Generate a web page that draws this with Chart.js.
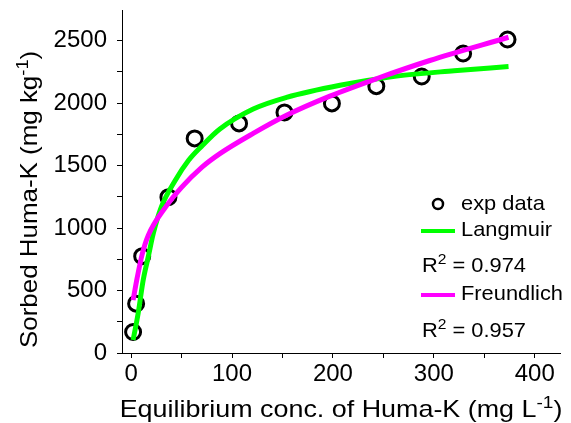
<!DOCTYPE html>
<html>
<head>
<meta charset="utf-8">
<script src="https://cdn.jsdelivr.net/npm/chart.js@4.4.1/dist/chart.umd.min.js"></script>
<style>
  html, body { margin: 0; padding: 0; background: #fff; }
</style>
</head>
<body>
<canvas id="chart" width="571" height="423"></canvas>
<script>
// experimental points
const expX = [2, 5, 11, 37, 63, 107, 152, 199, 243, 288, 329, 373];
const expY = [168, 395, 775, 1247, 1717, 1837, 1925, 1997, 2135, 2212, 2396, 2508];

// Langmuir fit curve
const langX = [2, 7, 12, 17, 22, 30, 44, 57, 70, 88, 121, 154, 207, 263, 320, 374];
const langY = [104, 317, 583, 769, 956, 1169, 1384, 1542, 1655, 1792, 1952, 2045, 2142, 2215, 2258, 2292];

// Freundlich fit curve
const freuX = [2, 6, 11, 17, 34, 50, 70, 88, 121, 154, 197, 243, 296, 374];
const freuY = [423, 600, 790, 940, 1165, 1325, 1485, 1595, 1757, 1902, 2055, 2194, 2340, 2526];

const r2Lang = "0.974";
const r2Freu = "0.957";

// major (labelled) and minor ticks
const xTicks = [0, 100, 200, 300, 400];
const xMinor = [50, 150, 250, 350];
const yTicks = [0, 500, 1000, 1500, 2000, 2500];
const yMinor = [250, 750, 1250, 1750, 2250];

const FONT = '"Liberation Sans", Arial, sans-serif';

function toPoints(xs, ys) {
  return xs.map((x, i) => ({ x: x, y: ys[i] }));
}

function tickList(major, minor) {
  return major.concat(minor).sort((a, b) => a - b).map(v => ({ value: v }));
}

// draws text made of normal and superscript parts
function drawParts(ctx, parts, x, y, size, stretch) {
  ctx.save();
  ctx.translate(x, y);
  ctx.scale(stretch, 1);
  let cx = 0;
  parts.forEach(p => {
    if (p.sup) {
      ctx.font = Math.round(size * 0.7) + 'px ' + FONT;
      ctx.fillText(p.t, cx, -size * 0.38);
    } else {
      ctx.font = size + 'px ' + FONT;
      ctx.fillText(p.t, cx, 0);
    }
    cx += ctx.measureText(p.t).width;
  });
  ctx.restore();
}

function partsWidth(ctx, parts, size, stretch) {
  let w = 0;
  parts.forEach(p => {
    ctx.font = (p.sup ? Math.round(size * 0.7) : size) + 'px ' + FONT;
    w += ctx.measureText(p.t).width;
  });
  return w * stretch;
}

const xTitle = [{ t: 'Equilibrium conc. of Huma-K (mg L' }, { t: '-1', sup: true }, { t: ')' }];
const yTitle = [{ t: 'Sorbed Huma-K (mg kg' }, { t: '-1', sup: true }, { t: ')' }];

const titlesAndLegend = {
  id: 'titlesAndLegend',
  afterDraw(chart) {
    const ctx = chart.ctx;
    const area = chart.chartArea;
    ctx.save();
    ctx.fillStyle = '#000';
    ctx.textBaseline = 'alphabetic';
    ctx.textAlign = 'left';

    // x axis title
    const xw = partsWidth(ctx, xTitle, 24, 1.12);
    drawParts(ctx, xTitle, (area.left + area.right) / 2 - xw / 2, 417, 24, 1.12);

    // y axis title
    ctx.save();
    ctx.translate(37, area.bottom - 5);
    ctx.rotate(-Math.PI / 2);
    drawParts(ctx, yTitle, 0, 0, 24, 1.08);
    ctx.restore();

    // legend
    const sets = chart.data.datasets;
    const lx = 421, tx = 461;
    ctx.lineWidth = 2.5;
    ctx.strokeStyle = '#000';
    ctx.beginPath();
    ctx.arc(438, 204, 5, 0, Math.PI * 2);
    ctx.stroke();
    drawParts(ctx, [{ t: sets[2].label }], tx, 210, 21, 1.04);

    ctx.lineWidth = 4;
    ctx.strokeStyle = sets[1].borderColor;
    ctx.beginPath(); ctx.moveTo(lx, 231); ctx.lineTo(455, 231); ctx.stroke();
    drawParts(ctx, [{ t: sets[1].label }], tx, 236, 21, 1.04);
    drawParts(ctx, [{ t: 'R' }, { t: '2', sup: true }, { t: ' = ' + r2Lang }], 422, 272, 21, 1.04);

    ctx.strokeStyle = sets[0].borderColor;
    ctx.beginPath(); ctx.moveTo(lx, 295); ctx.lineTo(455, 295); ctx.stroke();
    drawParts(ctx, [{ t: sets[0].label }], tx, 300, 21, 1.04);
    drawParts(ctx, [{ t: 'R' }, { t: '2', sup: true }, { t: ' = ' + r2Freu }], 422, 337, 21, 1.04);

    ctx.restore();
  }
};

const axisCommon = {
  type: 'linear',
  bounds: 'data',
  grid: { drawOnChartArea: false, color: '#000', tickColor: '#000', tickLength: 5, tickWidth: 1 },
  border: { display: true, color: '#000', width: 1 }
};

new Chart(document.getElementById('chart'), {
  type: 'scatter',
  data: {
    datasets: [
      {
        label: 'Freundlich',
        data: toPoints(freuX, freuY),
        showLine: true,
        borderColor: '#ff00ff',
        borderWidth: 5,
        pointRadius: 0,
        cubicInterpolationMode: 'monotone',
        order: 0
      },
      {
        label: 'Langmuir',
        data: toPoints(langX, langY),
        showLine: true,
        borderColor: '#00ff00',
        borderWidth: 5,
        pointRadius: 0,
        cubicInterpolationMode: 'monotone',
        order: 1
      },
      {
        label: 'exp data',
        data: toPoints(expX, expY),
        showLine: false,
        pointRadius: 7.5,
        pointBorderWidth: 3,
        pointBorderColor: '#000',
        pointBackgroundColor: 'rgba(0,0,0,0)',
        order: 2
      }
    ]
  },
  options: {
    responsive: false,
    animation: false,
    devicePixelRatio: 1,
    layout: { padding: { left: 0, top: 10, right: 11, bottom: 0 } },
    plugins: { legend: { display: false }, tooltip: { enabled: false } },
    scales: {
      x: Object.assign({}, axisCommon, {
        min: -9,
        max: 425,
        afterBuildTicks: s => { s.ticks = tickList(xTicks, xMinor); },
        ticks: {
          autoSkip: false,
          maxRotation: 0,
          padding: 2,
          color: '#000',
          font: { family: FONT, size: 24 },
          callback: v => xTicks.includes(v) ? String(v) : ''
        },
        afterFit: s => { s.height = 70; s.paddingLeft = 0; s.paddingRight = 0; }
      }),
      y: Object.assign({}, axisCommon, {
        min: 0,
        max: 2740,
        afterBuildTicks: s => { s.ticks = tickList(yTicks, yMinor); },
        ticks: {
          autoSkip: false,
          padding: 10,
          color: '#000',
          font: { family: FONT, size: 24 },
          callback: v => yTicks.includes(v) ? String(v) : ''
        },
        afterFit: s => { s.width = 122; s.paddingTop = 0; s.paddingBottom = 0; }
      })
    }
  },
  plugins: [titlesAndLegend]
});
</script>
</body>
</html>
